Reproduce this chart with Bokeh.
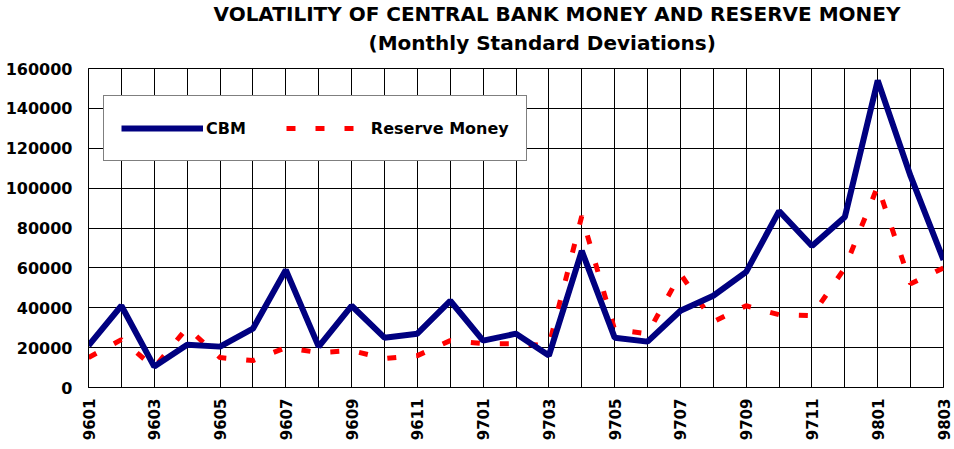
import math
from bokeh.plotting import figure
from bokeh.models import (FixedTicker, NumeralTickFormatter, Legend, LegendItem,
                          Title, Range1d)
from bokeh.embed import file_html
from bokeh.resources import INLINE

months = ["9601", "9602", "9603", "9604", "9605", "9606", "9607", "9608", "9609",
          "9610", "9611", "9612", "9701", "9702", "9703", "9704", "9705", "9706",
          "9707", "9708", "9709", "9710", "9711", "9712", "9801", "9802", "9803"]
cbm = [21000, 41000, 10500, 21500, 20500, 29500, 59000, 20500, 41000, 25000,
       27000, 43500, 23500, 27000, 16000, 68500, 25000, 23000, 38500, 46000,
       58000, 88500, 71000, 85500, 154000, 106000, 64000]
reserve_money = [15000, 24000, 10000, 30000, 15000, 13500, 20000, 17500, 18500,
                 14500, 16000, 23500, 22000, 22000, 21000, 86000, 29000, 27000,
                 57000, 33000, 41000, 36500, 36000, 60000, 101000, 52000, 60000]
y_ticks = [0, 20000, 40000, 60000, 80000, 100000, 120000, 140000, 160000]
title_line1 = "VOLATILITY OF CENTRAL BANK MONEY AND RESERVE MONEY"
title_line2 = "(Monthly Standard Deviations)"

FONT = "DejaVu Sans"
x = list(range(len(months)))

p = figure(width=954, height=449, output_backend="svg", toolbar_location=None,
           x_range=Range1d(0, len(months) - 1), y_range=Range1d(0, 160000),
           min_border_left=88, min_border_top=68, min_border_right=11,
           min_border_bottom=62)
p.background_fill_color = "white"
p.border_fill_color = "white"
p.outline_line_color = "black"
p.outline_line_width = 1

# axes
p.xaxis.ticker = FixedTicker(ticks=x[::2])
p.xaxis.major_label_overrides = {i: months[i] for i in x}
p.xaxis.major_label_orientation = math.pi / 2
p.yaxis.ticker = FixedTicker(ticks=y_ticks)
p.yaxis.formatter = NumeralTickFormatter(format="0")
for ax in (p.xaxis, p.yaxis):
    ax.major_tick_out = 0
    ax.major_tick_in = 0
    ax.minor_tick_out = 0
    ax.minor_tick_in = 0
    ax.axis_line_color = "black"
    ax.axis_line_width = 1
    ax.major_label_text_font = FONT
    ax.major_label_text_font_style = "bold"
    ax.major_label_text_color = "black"
p.xaxis.major_label_text_font_size = "15px"
p.xaxis.major_label_standoff = 11
p.yaxis.major_label_text_font_size = "16px"
p.yaxis.major_label_standoff = 16

# grid
p.xgrid.ticker = FixedTicker(ticks=x)
p.ygrid.ticker = FixedTicker(ticks=y_ticks)
for g in (p.xgrid, p.ygrid):
    g.grid_line_color = "black"
    g.grid_line_width = 1
    g.grid_line_alpha = 1

r_rm = p.line(x, reserve_money, line_color="#ff0000", line_width=5,
              line_dash="9 20")
r_cbm = p.line(x, cbm, line_color="#000080", line_width=6)

legend = Legend(items=[LegendItem(label="CBM", renderers=[r_cbm]),
                       LegendItem(label="Reserve Money", renderers=[r_rm])],
                orientation="horizontal", location=(15, 226),
                glyph_width=82, glyph_height=30, label_height=30,
                label_standoff=3, spacing=40, padding=17, margin=0,
                border_line_color="black", border_line_width=1,
                background_fill_color="white", background_fill_alpha=1,
                label_text_font=FONT, label_text_font_style="bold",
                label_text_font_size="16px", label_text_color="black")
p.add_layout(legend, "center")

title_style = dict(align="left", text_font=FONT, text_font_style="bold",
                   text_font_size="20px", text_color="black")
# subtitle first (closest to the plot), then the main title above it
try:
    sub = Title(text=title_line2, offset=280, standoff=27, **title_style)
    main = Title(text=title_line1, offset=125, standoff=-21, **title_style)
except Exception:
    sub = Title(text=title_line2, offset=280, standoff=15, **title_style)
    main = Title(text=title_line1, offset=125, standoff=2, **title_style)
p.add_layout(sub, "above")
p.add_layout(main, "above")

open("out.html", "w").write(file_html(p, INLINE))
